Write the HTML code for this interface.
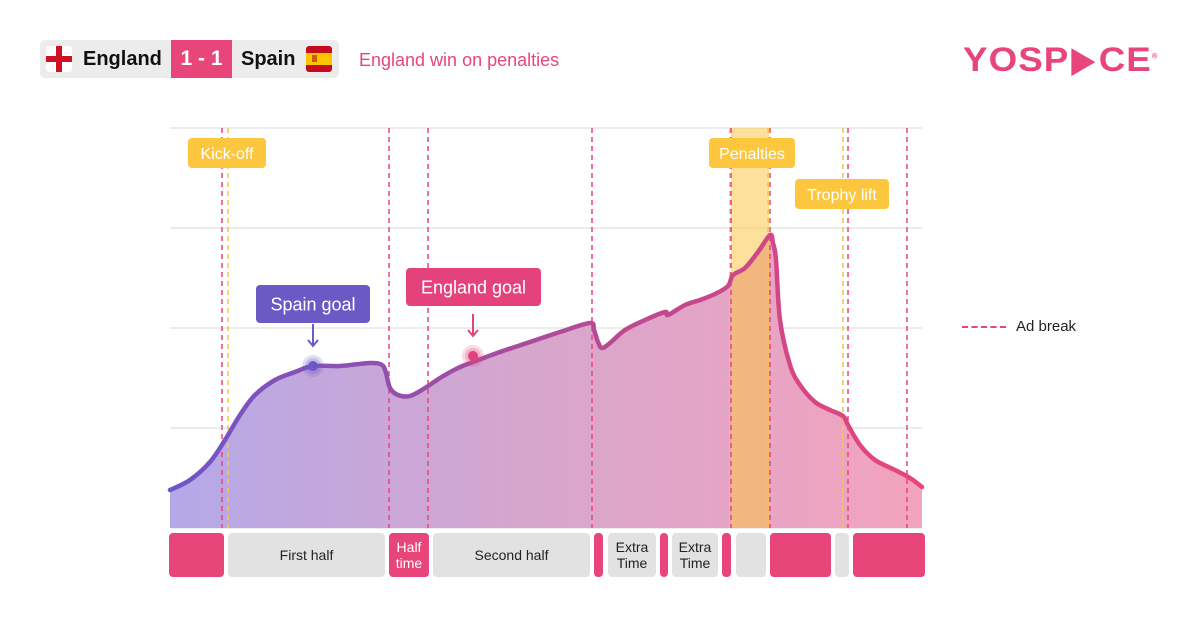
<!DOCTYPE html>
<html><head><meta charset="utf-8"><style>
body{margin:0;width:1200px;height:627px;background:#fff;font-family:"Liberation Sans",sans-serif;overflow:hidden;position:relative}
.abs{position:absolute}
</style></head><body>
<div class="abs" style="left:40px;top:40px;width:299px;height:38px;background:#ececec;border-radius:5px"></div>
<svg class="abs" style="left:46px;top:46px" width="26" height="26"><rect width="26" height="26" rx="3" fill="#fff"/><rect x="10" y="0" width="6" height="26" fill="#ce1124"/><rect x="0" y="10" width="26" height="6" fill="#ce1124"/></svg>
<div class="abs" style="left:83px;top:48px;font-size:20px;font-weight:bold;color:#111">England</div>
<div class="abs" style="left:171px;top:40px;width:61px;height:38px;background:#e8457a;color:#fff;font-size:21px;font-weight:bold;text-align:center;line-height:38px">1 - 1</div>
<div class="abs" style="left:241px;top:48px;font-size:20px;font-weight:bold;color:#111">Spain</div>
<svg class="abs" style="left:306px;top:46px" width="26" height="26"><rect width="26" height="26" rx="3" fill="#c60b1e"/><rect y="7" width="26" height="12" fill="#ffc400"/><rect x="6" y="9" width="5" height="7" fill="#ad1519" opacity=".6"/></svg>
<div class="abs" style="left:359px;top:50px;font-size:18px;color:#e8457a">England win on penalties</div>
<div class="abs" style="left:963px;top:40px;font-size:34px;font-weight:900;color:#e8457a;letter-spacing:1px;transform:scaleX(1.08);transform-origin:left">YOSP<span style="display:inline-block;transform:scaleX(.8)">&#9654;</span>CE<sup style="font-size:7px">®</sup></div>

<svg class="abs" id="chart" style="left:0;top:0" width="1200" height="627"></svg>
<div class="abs" style="left:962px;top:318px;font-size:15px;color:#222"><span style="display:inline-block;width:44px;border-top:2px dashed #e8457a;vertical-align:middle;margin-right:10px"></span>Ad break</div>

<script>
const times=[0,20,40,55,70,85,105,125,143,170,200,212,216,220,228,240,255,270,288,303,330,360,390,420,424,428,432,440,455,475,495,498,515,530,545,558,563,575,588,600,603,606,610,620,630,645,660,673,678,690,705,725,740,752];
const values=[38,48,66,88,113,133,148,156,162,162,165,163,155,140,133,132,140,150,160,166,176,186,196,205,198,186,180,185,198,208,216,213,223,228,234,242,253,260,276,293,285,268,208,163,143,126,118,112,103,83,68,58,50,41];
const adBreaks=[222,389,428,592,731,770,848,907];
const events=[228,730,768,843];
const segLabels=["","First half","Half time","Second half","","Extra Time","","Extra Time","","","","",""];
const segStart=[169,228,389,433,594,608,660,672,722,736,770,835,853];
const segEnd=[224,385,429,590,603,656,668,718,731,766,831,849,925];
const segAd=[1,0,1,0,1,0,1,0,1,0,1,0,1];
const X0=170,X1=922,Y0=528;
const xs=t=>X0+t*(X1-X0)/752, ys=v=>Y0-v;
const svg=document.getElementById('chart');const NS='http://www.w3.org/2000/svg';
function mk(tag,a,p){const e=document.createElementNS(NS,tag);for(const k in a)e.setAttribute(k,a[k]);(p||svg).appendChild(e);return e;}
svg.innerHTML='<defs><linearGradient id="lg" x1="0" x2="1"><stop offset="0" stop-color="#6f55c9"/><stop offset=".5" stop-color="#b04a9a"/><stop offset="1" stop-color="#e8457a"/></linearGradient><linearGradient id="fg" x1="0" x2="1"><stop offset="0" stop-color="#b4a8e8"/><stop offset=".5" stop-color="#d8a6cc"/><stop offset="1" stop-color="#f3a3bd"/></linearGradient></defs>';
for(let i=0;i<5;i++){const g=mk('line',{x1:170,x2:922,y1:128+i*100,y2:128+i*100,stroke:'#e6e6e6','stroke-width':1.5});}
const P=times.map((t,i)=>[xs(t),ys(values[i])]);
let d='M'+P[0][0]+','+P[0][1];
for(let i=0;i<P.length-1;i++){const p0=P[Math.max(0,i-1)],p1=P[i],p2=P[i+1],p3=P[Math.min(P.length-1,i+2)];
 const c1=[p1[0]+(p2[0]-p0[0])/6,p1[1]+(p2[1]-p0[1])/6],c2=[p2[0]-(p3[0]-p1[0])/6,p2[1]-(p3[1]-p1[1])/6];
 d+=`C${c1[0]},${c1[1]} ${c2[0]},${c2[1]} ${p2[0]},${p2[1]}`;}
const area=mk('path',{d:d+`L${X1},${Y0}L${X0},${Y0}Z`,fill:'url(#fg)'});

const band=mk('rect',{x:731,y:128,width:38,height:400,fill:'#fbc64a',opacity:.55});

events.forEach(x=>{const l=mk('line',{x1:x,x2:x,y1:128,y2:528,stroke:'#fbc43c','stroke-width':1.5,'stroke-dasharray':'5 4'});});
adBreaks.forEach(x=>{const l=mk('line',{x1:x,x2:x,y1:128,y2:528,stroke:'#e8457a','stroke-width':1.5,'stroke-dasharray':'5 4'});});
const line=mk('path',{d:d,fill:'none',stroke:'url(#lg)','stroke-width':4.5,'stroke-linejoin':'round','stroke-linecap':'round'});

segStart.forEach((s,i)=>{const r=mk('rect',{x:s,y:533,width:segEnd[i]-s,height:44,rx:4,fill:segAd[i]?'#e8457a':'#e2e2e2'});
 const words=segLabels[i].split(' ');if(!segLabels[i])return;
 const twoLine=segLabels[i]!=="First half"&&segLabels[i]!=="Second half";
 const lines=twoLine?words:[segLabels[i]];
 lines.forEach((w,j)=>{const t=mk('text',{x:(s+segEnd[i])/2,y:twoLine?552+j*16:560,'text-anchor':'middle','font-size':14,fill:segAd[i]?'#fff':'#222','font-family':'Liberation Sans'});t.textContent=w;});
});
function label(x,y,w,h,txt,bg,fs,name){const g=mk('g',{});mk('rect',{x,y,width:w,height:h,rx:4,fill:bg},g);const t=mk('text',{x:x+w/2,y:y+h/2+fs*0.36,'text-anchor':'middle','font-size':fs,fill:'#fff','font-family':'Liberation Sans'},g);t.textContent=txt;}
label(188,138,78,30,'Kick-off','#fcc73f',16,'kickoff-label');
label(709,138,86,30,'Penalties','#fcc73f',16,'penalties-label');
label(795,179,94,30,'Trophy lift','#fcc73f',16,'trophy-lift-label');
label(256,285,114,38,'Spain goal','#6b59c6',18,'spain-goal-label');
label(406,268,135,38,'England goal','#e3427a',18,'england-goal-label');
function marker(x,y,c,ax,name){mk('line',{x1:ax,x2:ax,y1:y-42,y2:y-20,stroke:c,'stroke-width':2});mk('path',{d:`M${ax-5},${y-26}L${ax},${y-20}L${ax+5},${y-26}`,fill:'none',stroke:c,'stroke-width':2});mk('circle',{cx:x,cy:y,r:11,fill:c,opacity:.2});mk('circle',{cx:x,cy:y,r:8,fill:c,opacity:.25});const d=mk('circle',{cx:x,cy:y,r:5,fill:c});}
marker(313,366,'#6b59c6',313,'spain-goal-point');
marker(473,356,'#e3427a',473,'england-goal-point');
</script>
</body></html>
